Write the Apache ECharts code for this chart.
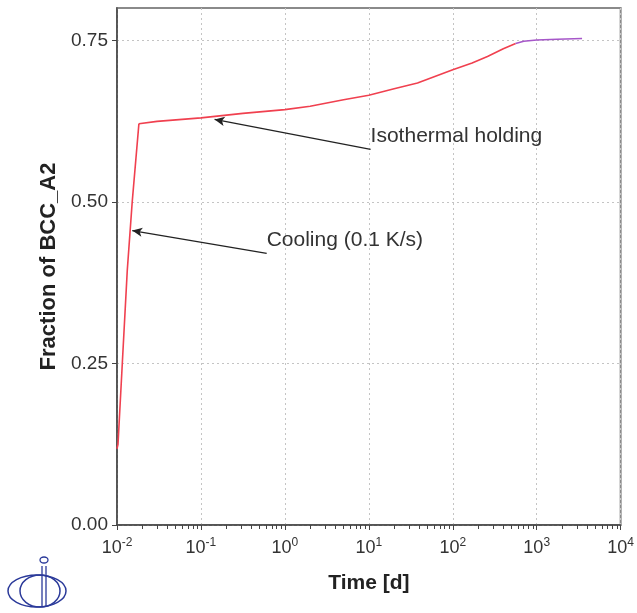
<!DOCTYPE html>
<html><head><meta charset="utf-8">
<script src="https://cdn.jsdelivr.net/npm/echarts@6/dist/echarts.min.js"></script>
<style>html,body{margin:0;padding:0;background:#fff}#c{width:637px;height:613px}</style>
</head><body><div id="c"></div>
<script>
// Cooling (red)
const coolTime = [0.0100, 0.01028, 0.01156, 0.01325, 0.01518, 0.01824];
const coolFrac = [0.118, 0.125, 0.2495, 0.3936, 0.500, 0.621];
// Isothermal holding (red)
const holdTime = [0.01824, 0.03, 0.1, 0.316, 1, 2, 3.16, 5, 10, 20, 38, 100, 170, 259, 400, 561];
const holdFrac = [0.621, 0.6245, 0.630, 0.637, 0.6427, 0.648, 0.653, 0.658, 0.665, 0.675, 0.684, 0.7046, 0.715, 0.725, 0.737, 0.745];
// Final part (purple)
const purpleTime = [561, 700, 1000, 1750, 3470];
const purpleFrac = [0.745, 0.7485, 0.7505, 0.7516, 0.7527];

const xTickValues = [0.01, 0.1, 1, 10, 100, 1000, 10000];
const xTickExp = ['-2', '-1', '0', '1', '2', '3', '4'];
const yTickValues = [0, 0.25, 0.5, 0.75];
const minorMultipliers = [2, 3, 4, 5, 6, 7, 8, 9];

// Annotations: arrow tip and tail [time, fraction]
const noteTexts = ['Isothermal holding', 'Cooling (0.1 K/s)'];
const noteTip = [[0.1454, 0.6276], [0.0152, 0.4556]];
const noteTail = [[10.5, 0.5811], [0.607, 0.4204]];

const minorTicks = [];
for (let i = 0; i < xTickValues.length - 1; i++) {
  for (const m of minorMultipliers) minorTicks.push(xTickValues[i] * m);
}

const zip = (a, b) => a.map((v, i) => [v, b[i]]);
const chart = echarts.init(document.getElementById('c'), null, {renderer: 'canvas'});

const gridLine = {show: true, lineStyle: {color: '#c4c4c4', type: [2, 3], width: 1}};
const font = 'Liberation Sans, Arial, sans-serif';
const red = '#f0404f';

chart.setOption({
  animation: false,
  backgroundColor: '#fff',
  textStyle: {fontFamily: font},
  grid: {left: 117, right: 14, top: 8, bottom: 88, show: true, borderColor: '#8a8a8a', borderWidth: 2, containLabel: false},
  xAxis: [{
    type: 'log', logBase: 10, min: 0.01, max: 10000, position: 'bottom',
    axisLine: {show: true, lineStyle: {color: '#444', width: 1.5}},
    axisTick: {show: true, inside: false, length: 5, lineStyle: {color: '#444'}},
    splitLine: gridLine,
    axisLabel: {
      margin: 12, color: '#333', fontSize: 18, fontFamily: font,
      formatter: v => {
        const idx = xTickValues.findIndex(t => Math.abs(Math.log10(t) - Math.log10(v)) < 1e-6);
        return '10{s|' + (idx >= 0 ? xTickExp[idx] : Math.round(Math.log10(v))) + '}';
      },
      rich: {s: {fontSize: 12, verticalAlign: 'top', padding: [0, 0, 10, 0], color: '#333', fontFamily: font}}
    },
    name: 'Time [d]', nameLocation: 'middle', nameGap: 48,
    nameTextStyle: {fontSize: 21, fontWeight: 'bold', color: '#222', fontFamily: font}
  }, {
    type: 'log', logBase: 10, min: 0.01, max: 10000, position: 'bottom',
    axisLine: {show: false},
    axisTick: {show: true, inside: false, length: 4, customValues: minorTicks, lineStyle: {color: '#444'}},
    axisLabel: {show: false},
    splitLine: {show: false}
  }],
  yAxis: {
    type: 'value', min: 0, max: 0.8, interval: 0.25,
    axisLine: {show: true, lineStyle: {color: '#444', width: 1.5}},
    axisTick: {show: true, inside: false, length: 5, customValues: yTickValues, lineStyle: {color: '#444'}},
    splitLine: gridLine,
    axisLabel: {customValues: yTickValues, formatter: v => v.toFixed(2), color: '#333', fontSize: 19, margin: 9, fontFamily: font},
    name: 'Fraction of BCC_A2', nameLocation: 'middle', nameGap: 51,
    nameTextStyle: {fontSize: 22, fontWeight: 'bold', color: '#222', fontFamily: font}
  },
  series: [{
    type: 'line', data: zip(coolTime, coolFrac), showSymbol: false, smooth: false,
    lineStyle: {color: red, width: 1.6}, z: 3,
    markLine: {
      silent: true, symbol: ['arrow', 'none'], symbolSize: [7, 10],
      lineStyle: {color: '#222', width: 1.3, type: 'solid'},
      label: {show: false},
      data: noteTip.map((tip, i) => [{coord: tip}, {coord: noteTail[i]}])
    },
    markPoint: {
      silent: true, symbol: 'circle', symbolSize: 0,
      label: {show: true, position: [0, -13], align: 'left', verticalAlign: 'middle', fontSize: 21, color: '#333', fontFamily: font, formatter: p => p.name},
      data: noteTail.map((tail, i) => ({name: noteTexts[i], coord: tail}))
    }
  }, {
    type: 'line', data: zip(holdTime, holdFrac), showSymbol: false, smooth: false,
    lineStyle: {color: red, width: 1.6}, z: 3
  }, {
    type: 'line', data: zip(purpleTime, purpleFrac), showSymbol: false, smooth: false,
    lineStyle: {color: '#a657c9', width: 1.6}, z: 3
  }],
  graphic: [
    {type: 'ellipse', shape: {cx: 37, cy: 591, rx: 29, ry: 16}, style: {fill: 'none', stroke: '#2b3a9a', lineWidth: 1.5}},
    {type: 'ellipse', shape: {cx: 40, cy: 591, rx: 20, ry: 16}, style: {fill: 'none', stroke: '#2b3a9a', lineWidth: 1.5}},
    {type: 'line', shape: {x1: 42, y1: 566, x2: 42, y2: 607}, style: {stroke: '#2b3a9a', lineWidth: 1.3}},
    {type: 'line', shape: {x1: 46, y1: 566, x2: 46, y2: 607}, style: {stroke: '#2b3a9a', lineWidth: 1.3}},
    {type: 'ellipse', shape: {cx: 44, cy: 560, rx: 4, ry: 3}, style: {fill: 'none', stroke: '#2b3a9a', lineWidth: 1.3}}
  ]
});
</script></body></html>
